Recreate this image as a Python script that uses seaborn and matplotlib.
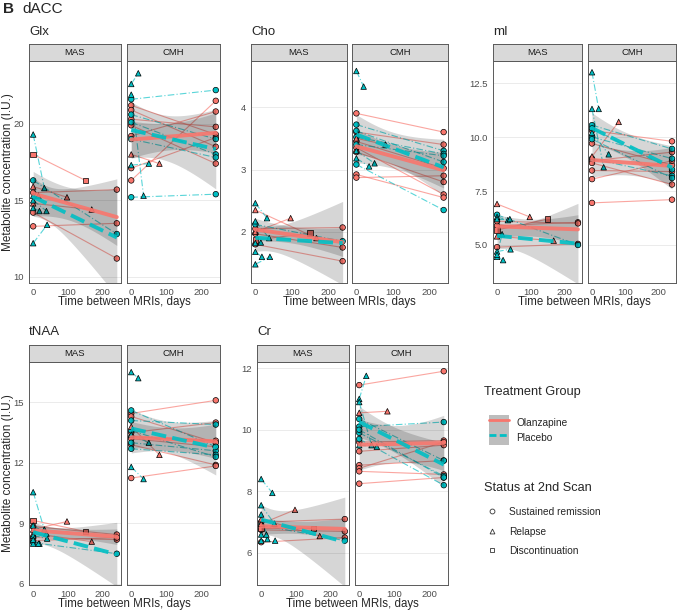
import numpy as np
import pandas as pd
import matplotlib
matplotlib.use("Agg")
import matplotlib.pyplot as plt
import seaborn as sns
from matplotlib.lines import Line2D
from matplotlib.patches import Patch

# ---- subjects per site ----
mas_group = ['Olanzapine', 'Olanzapine', 'Olanzapine', 'Placebo', 'Olanzapine', 'Olanzapine',
             'Olanzapine', 'Placebo', 'Placebo', 'Placebo', 'Placebo', 'Placebo']
mas_status = ['Sustained remission'] * 4 + ['Discontinuation'] + ['Relapse'] * 7
mas_days = [240, 240, 240, 240, 150, 97, 168, 32, 40, 18, 38, 15]

cmh_group = ['Olanzapine'] * 7 + ['Placebo'] * 5 + ['Placebo'] * 3 + ['Olanzapine']
cmh_status = ['Sustained remission'] * 12 + ['Relapse'] * 4
cmh_days = [240] * 12 + [20, 35, 50, 80]

# ---- metabolite values (baseline at day 0, second scan) ----
glx_mas_base = [15.5, 14.2, 13.3, 16.3, 18.0, 15.9, 14.8, 19.3, 12.2, 14.5, 15.0, 15.3]
glx_mas_follow = [15.7, 11.2, 13.5, 12.8, 16.3, 15.2, 14.4, 15.8, 13.4, 14.3, 14.3, 15.3]
glx_cmh_base = [21.2, 20.9, 20.3, 19.9, 19.2, 17.1, 16.3, 21.6, 20.6, 20.1, 19.0, 15.2, 22.6, 21.9, 17.3, 18.0]
glx_cmh_follow = [19.3, 18.5, 19.8, 17.4, 20.8, 19.1, 21.5, 22.2, 19.0, 18.0, 17.8, 15.4, 23.3, 15.3, 17.4, 17.4]

cho_mas_base = [2.05, 1.80, 1.97, 2.12, 1.87, 2.00, 2.35, 2.46, 1.48, 1.68, 2.17, 1.82]
cho_mas_follow = [2.07, 1.53, 1.75, 1.85, 1.98, 2.22, 1.90, 2.22, 1.60, 1.60, 1.90, 1.83]
cho_cmh_base = [3.90, 3.60, 3.45, 3.35, 3.28, 2.92, 2.87, 3.72, 3.52, 3.62, 3.40, 3.08, 4.58, 3.18, 3.30, 3.50]
cho_cmh_follow = [3.60, 3.40, 3.02, 2.60, 2.80, 2.55, 2.90, 3.30, 3.25, 3.12, 3.22, 2.35, 4.33, 3.05, 3.10, 3.40]

mi_mas_base = [5.9, 4.9, 6.1, 6.4, 5.7, 6.9, 5.4, 6.3, 4.7, 4.45, 6.2, 4.55]
mi_mas_follow = [6.05, 5.05, 6.0, 5.0, 6.2, 6.3, 5.2, 6.15, 4.8, 4.3, 6.2, 5.5]
mi_cmh_base = [10.3, 9.7, 8.9, 8.8, 8.45, 8.05, 6.95, 10.55, 10.4, 10.0, 9.0, 9.9, 13.0, 11.3, 10.2, 9.1]
mi_cmh_follow = [9.8, 8.7, 9.3, 7.8, 8.4, 8.9, 7.1, 9.45, 8.5, 9.0, 8.2, 8.1, 11.3, 8.6, 9.2, 10.7]

tnaa_mas_base = [8.85, 8.3, 8.15, 8.05, 9.15, 8.7, 8.5, 10.55, 8.4, 8.0, 8.9, 8.2]
tnaa_mas_follow = [8.45, 8.2, 8.3, 7.5, 8.6, 9.1, 8.1, 8.7, 8.25, 8.0, 8.5, 8.0]
tnaa_cmh_base = [14.45, 13.5, 13.3, 13.2, 12.9, 14.3, 11.25, 14.1, 13.0, 12.7, 13.6, 14.6, 16.5, 11.8, 13.4, 13.8]
tnaa_cmh_follow = [15.1, 14.0, 13.1, 12.8, 11.9, 13.0, 11.85, 13.9, 12.6, 12.4, 12.3, 12.8, 16.2, 11.2, 13.0, 12.4]

cr_mas_base = [7.0, 6.75, 6.35, 6.9, 6.8, 6.95, 7.1, 8.4, 6.4, 6.6, 7.55, 7.25]
cr_mas_follow = [7.1, 6.7, 6.5, 6.4, 6.8, 7.4, 6.55, 7.95, 6.4, 6.45, 6.95, 6.6]
cr_cmh_base = [11.45, 9.6, 9.3, 8.85, 8.75, 8.65, 8.25, 10.1, 10.35, 9.9, 9.7, 10.0, 11.0, 10.9, 9.5, 10.55]
cr_cmh_follow = [11.9, 9.65, 9.5, 9.0, 9.6, 8.55, 8.45, 10.25, 9.0, 8.5, 8.2, 8.45, 11.75, 9.5, 9.45, 10.6]

# ---- tick labels ----
glx_ticks = [10, 15, 20]
cho_ticks = [2, 3, 4]
mi_ticks = [5.0, 7.5, 10.0, 12.5]
mi_tick_labels = ['5.0', '7.5', '10.0', '12.5']
tnaa_ticks = [6, 9, 12, 15]
cr_ticks = [6, 8, 10, 12]
x_ticks = [0, 100, 200]

sites = ['MAS', 'CMH']
groups = ['Olanzapine', 'Placebo']
statuses = ['Sustained remission', 'Relapse', 'Discontinuation']

values = {
    ('Glx', 'MAS'): (glx_mas_base, glx_mas_follow), ('Glx', 'CMH'): (glx_cmh_base, glx_cmh_follow),
    ('Cho', 'MAS'): (cho_mas_base, cho_mas_follow), ('Cho', 'CMH'): (cho_cmh_base, cho_cmh_follow),
    ('mI', 'MAS'): (mi_mas_base, mi_mas_follow), ('mI', 'CMH'): (mi_cmh_base, mi_cmh_follow),
    ('tNAA', 'MAS'): (tnaa_mas_base, tnaa_mas_follow), ('tNAA', 'CMH'): (tnaa_cmh_base, tnaa_cmh_follow),
    ('Cr', 'MAS'): (cr_mas_base, cr_mas_follow), ('Cr', 'CMH'): (cr_cmh_base, cr_cmh_follow),
}
subjects = {'MAS': (mas_group, mas_status, mas_days), 'CMH': (cmh_group, cmh_status, cmh_days)}

rows = []
for (met, site), (base, follow) in values.items():
    grp, st, dd = subjects[site]
    for i in range(len(base)):
        subj = f'{site}{i}'
        rows.append((met, site, subj, grp[i], st[i], 0, base[i]))
        rows.append((met, site, subj, grp[i], st[i], dd[i], follow[i]))
df = pd.DataFrame(rows, columns=['met', 'site', 'subject', 'group', 'status', 'days', 'value'])


def t975(dof):
    try:
        from scipy import stats
        return stats.t.ppf(0.975, dof)
    except ImportError:
        z = 1.959964
        return z + (z**3 + z) / (4 * dof) + (5 * z**5 + 16 * z**3 + 3 * z) / (96 * dof**2)


def lm_band(x, y, grid):
    # 95% confidence band of a simple linear fit (like geom_smooth(method="lm"))
    X = np.column_stack([np.ones_like(x), x])
    beta = np.linalg.lstsq(X, y, rcond=None)[0]
    resid = y - X @ beta
    s2 = resid @ resid / (len(x) - 2)
    G = np.column_stack([np.ones_like(grid), grid])
    se = np.sqrt(s2 * np.einsum('ij,jk,ik->i', G, np.linalg.inv(X.T @ X), G))
    yhat = G @ beta
    t = t975(len(x) - 2)
    return yhat - t * se, yhat + t * se


# ---- style ----
sns.set_theme(style='white')
plt.rcParams['font.family'] = ['Liberation Sans', 'DejaVu Sans']

salmon = '#F8766D'
teal = '#00BFC4'
palette = {'Olanzapine': salmon, 'Placebo': teal}
markers = {'Sustained remission': 'o', 'Relapse': '^', 'Discontinuation': 's'}
border = '#5a5a5a'

W, H = 677, 612
fig = plt.figure(figsize=(W / 100, H / 100), dpi=100)


def rect(x0, y0, x1, y1):
    return [x0 / W, 1 - y1 / H, (x1 - x0) / W, (y1 - y0) / H]


row_px = {0: (44, 61, 283), 1: (345, 362, 585)}
layout = {
    'Glx': (0, 29, 121, 127, 220, (9.6, 24.1), glx_ticks, [str(t) for t in glx_ticks]),
    'Cho': (0, 251, 347, 352, 448, (1.18, 4.74), cho_ticks, [str(t) for t in cho_ticks]),
    'mI': (0, 493, 582, 588, 676, (3.24, 13.52), mi_ticks, mi_tick_labels),
    'tNAA': (1, 29, 121, 127, 220, (5.95, 17.0), tnaa_ticks, [str(t) for t in tnaa_ticks]),
    'Cr': (1, 257, 349, 355, 448, (4.96, 12.2), cr_ticks, [str(t) for t in cr_ticks]),
}

for met, (r, m0, m1, c0, c1, ylim, yt, ytl) in layout.items():
    s_top, p_top, p_bot = row_px[r]
    for site, (x0, x1) in zip(sites, [(m0, m1), (c0, c1)]):
        ax = fig.add_axes(rect(x0, p_top, x1, p_bot))
        d = df[(df.met == met) & (df.site == site)]

        sns.lineplot(data=d, x='days', y='value', units='subject', estimator=None,
                     hue='group', style='group', palette=palette,
                     dashes={'Olanzapine': '', 'Placebo': (6, 2, 1, 2)},
                     lw=0.8, alpha=0.65, legend=False, ax=ax, zorder=1)
        sns.scatterplot(data=d, x='days', y='value', hue='group', style='status',
                        palette=palette, markers=markers, s=16, edgecolor='black',
                        linewidth=0.5, legend=False, ax=ax, zorder=1)
        for g in groups:
            dg = d[d.group == g]
            xs = dg.days.to_numpy(float)
            grid = np.linspace(xs.min(), xs.max(), 100)
            lo, hi = lm_band(xs, dg.value.to_numpy(float), grid)
            ax.fill_between(grid, lo, hi, color='black', alpha=0.16, lw=0, zorder=1)
        for g in groups:
            dg = d[d.group == g]
            lk = {'lw': 2.8, 'zorder': 4, 'alpha': 0.9}
            if g == 'Placebo':
                lk['dashes'] = (3.8, 1.6)
            sns.regplot(data=dg, x='days', y='value', scatter=False, ci=None,
                        color=palette[g], line_kws=lk, ax=ax)

        ax.set_xlim(-12, 252)
        ax.set_ylim(*ylim)
        ax.set_xticks(x_ticks)
        ax.set_yticks(yt, ytl if site == 'MAS' else [''] * len(yt))
        ax.set_xlabel('')
        ax.set_ylabel('')
        ax.set_facecolor('white')
        ax.yaxis.grid(True, color='#EBEBEB', lw=0.7)
        ax.xaxis.grid(False)
        ax.set_axisbelow(True)
        for sp in ax.spines.values():
            sp.set_color(border)
            sp.set_linewidth(0.7)
        ax.tick_params(length=2.5, width=0.6, color='#333333', labelsize=6.8,
                       labelcolor='#4d4d4d', pad=1)
        if site == 'CMH':
            ax.tick_params(axis='y', length=0)

        sax = fig.add_axes(rect(x0, s_top, x1, p_top))
        sax.set_facecolor('#D9D9D9')
        sax.set_xticks([])
        sax.set_yticks([])
        for sp in sax.spines.values():
            sp.set_color(border)
            sp.set_linewidth(0.7)
        sax.text(0.5, 0.5, site, ha='center', va='center', fontsize=6.8, color='#1a1a1a',
                 transform=sax.transAxes)

    title_y = 32 if r == 0 else 332
    fig.text(m0 / W, 1 - title_y / H, met, ha='left', va='center', fontsize=9.5)
    xl_y = 302 if r == 0 else 604
    fig.text((m0 + c1) / 2 / W, 1 - xl_y / H, 'Time between MRIs, days',
             ha='center', va='center', fontsize=8.3)
    if m0 == 29:
        fig.text(8 / W, 1 - (p_top + p_bot) / 2 / H, 'Metabolite concentration (I.U.)',
                 rotation=90, ha='center', va='center', fontsize=8.5)

fig.text(3 / W, 1 - 9 / H, 'B', fontsize=11, fontweight='bold', ha='left', va='center')
fig.text(22 / W, 1 - 9 / H, 'dACC', fontsize=11, ha='left', va='center')

# ---- legends ----
fig.text(484 / W, 1 - 392 / H, 'Treatment Group', fontsize=9.2, ha='left', va='center')
tg_handles = [
    (Patch(facecolor='#BDBDBD', edgecolor='none'), Line2D([0], [0], color=salmon, lw=2)),
    (Patch(facecolor='#BDBDBD', edgecolor='none'),
     Line2D([0], [0], color=teal, lw=2, dashes=(2.5, 1.2))),
]
leg1 = fig.legend(tg_handles, groups, loc='upper left', bbox_to_anchor=(489 / W, 1 - 415 / H),
                  frameon=False, borderpad=0, borderaxespad=0, fontsize=7.3, handlelength=2.0,
                  handleheight=1.9, labelspacing=0, handletextpad=0.7)

fig.text(484 / W, 1 - 488 / H, 'Status at 2nd Scan', fontsize=9.2, ha='left', va='center')
st_handles = [Line2D([0], [0], ls='none', marker=markers[s], mfc='white', mec='#333333',
                     mew=0.6, ms=3.5) for s in statuses]
leg2 = fig.legend(st_handles, statuses, loc='upper left', bbox_to_anchor=(486 / W, 1 - 507 / H),
                  frameon=False, borderpad=0, borderaxespad=0, fontsize=7.3, handlelength=1.2,
                  handleheight=1.0, labelspacing=0.95, handletextpad=1.1)

fig.savefig('out.png', dpi=100)
